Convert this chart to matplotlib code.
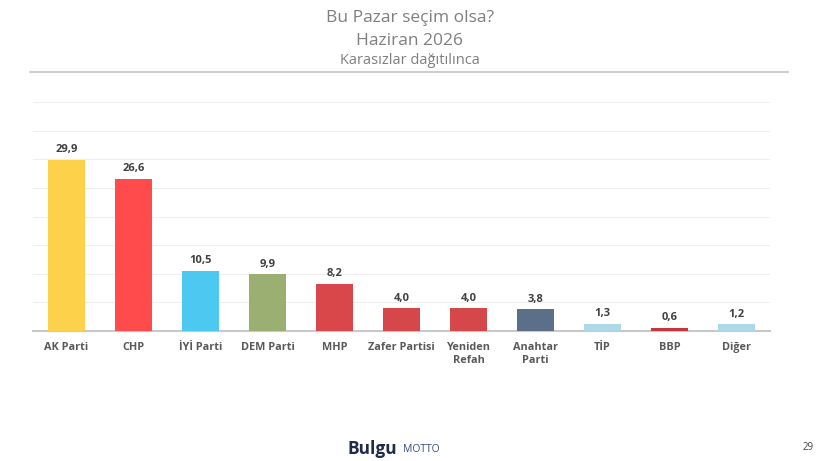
import matplotlib.pyplot as plt

plt.rcParams['font.family'] = ['Open Sans', 'DejaVu Sans']

# Data
parties = ['AK Parti', 'CHP', 'İYİ Parti', 'DEM Parti', 'MHP', 'Zafer Partisi',
           'Yeniden\nRefah', 'Anahtar\nParti', 'TİP', 'BBP', 'Diğer']
values = [29.9, 26.6, 10.5, 9.9, 8.2, 4.0, 4.0, 3.8, 1.3, 0.6, 1.2]
colors = ['#FDD14A', '#FF4B4B', '#4DC8F0', '#9BAF72', '#D9474A', '#D6474A',
          '#D6474A', '#5B7088', '#ADD8E6', '#C8363D', '#ADD8E6']

fig = plt.figure(figsize=(8.2, 4.61), dpi=100)
ax = fig.add_axes([33 / 820, 1 - 331 / 461, (770 - 33) / 820, (331 - 102) / 461])

x = range(len(parties))
bars = ax.bar(x, values, width=0.55, color=colors, zorder=3)

for xi, v in zip(x, values):
    ax.text(xi, v + 0.8, f'{v:.1f}'.replace('.', ','), ha='center', va='bottom',
            fontsize=8, fontweight='bold', color='#404040')

ax.set_xlim(-0.5, len(parties) - 0.5)
ax.set_ylim(0, 40)
ax.set_yticks(range(5, 41, 5))
ax.yaxis.grid(True, color='#efefef', linewidth=0.8, zorder=0)
ax.tick_params(axis='y', left=False, labelleft=False)
ax.tick_params(axis='x', length=0, pad=8)
ax.set_xticks(list(x))
ax.set_xticklabels(parties, fontsize=7.8, fontweight='bold', color='#595959')
for s in ['top', 'right', 'left']:
    ax.spines[s].set_visible(False)
ax.spines['bottom'].set_color('#c8c8c8')
ax.spines['bottom'].set_linewidth(1.5)

# Titles
fig.text(0.5, 1 - 18 / 461, 'Bu Pazar seçim olsa?', ha='center', va='center',
         fontsize=12.5, color='#7f7f7f')
fig.text(0.5, 1 - 41 / 461, 'Haziran 2026', ha='center', va='center',
         fontsize=12.5, color='#7f7f7f')
fig.text(0.5, 1 - 61 / 461, 'Karasızlar dağıtılınca', ha='center', va='center',
         fontsize=10.5, color='#7f7f7f')
fig.add_artist(plt.Line2D([30 / 820, 788 / 820], [1 - 72 / 461, 1 - 72 / 461],
                          color='#c4c4c4', linewidth=1.2))

# Footer
fig.text(348 / 820, 1 - 449 / 461, 'Bulgu', ha='left', va='center',
         fontsize=12.5, fontweight='bold', color='#1f2a4d')
fig.text(403 / 820, 1 - 449 / 461, 'MOTTO', ha='left', va='center',
         fontsize=7.5, color='#3a4a8a')
fig.text(808 / 820, 1 - 447 / 461, '29', ha='center', va='center',
         fontsize=7, color='#404040')

fig.savefig('out.png', dpi=100)
